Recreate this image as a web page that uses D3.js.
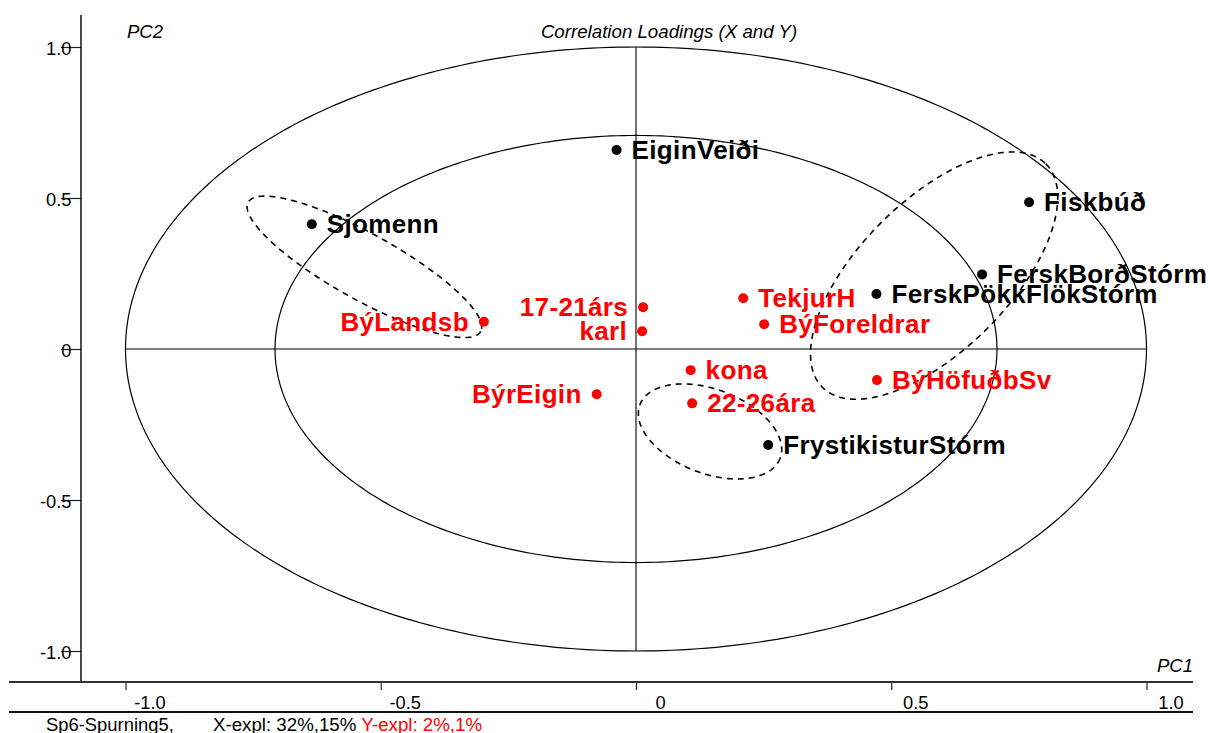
<!DOCTYPE html>
<html>
<head>
<meta charset="utf-8">
<script src="https://cdn.jsdelivr.net/npm/d3@7"></script>
<style>
body{margin:0;background:#fff;}
svg{display:block;font-family:"Liberation Sans",Arial,sans-serif;}
</style>
</head>
<body>
<div id="chart"></div>
<script>
// X loadings (black)
var xNames = ["EiginVeiði","Sjomenn","Fiskbúð","FerskBorðStórm","FerskPökkFlökStórm","FrystikisturStórm"];
var xPC1 = [-0.038,-0.635,0.770,0.678,0.471,0.259];
var xPC2 = [0.659,0.413,0.486,0.247,0.182,-0.318];

// Y loadings (red)
var yNames = ["17-21árs","karl","TekjurH","BýForeldrar","kona","22-26ára","BýrEigin","BýLandsb","BýHöfuðbSv"];
var yPC1 = [0.014,0.012,0.210,0.251,0.107,0.110,-0.077,-0.298,0.472];
var yPC2 = [0.138,0.059,0.168,0.082,-0.070,-0.180,-0.150,0.090,-0.103];
var labelLeft = ["17-21árs","karl","BýrEigin","BýLandsb"];

var tickLabels = ["-1.0","-0.5","0","0.5","1.0"];
var majorTicks = [-1,-0.5,0,0.5,1];

// hand drawn group outlines: centre + two conjugate half axes, in PC units
var groupCX = [-0.532,0.584,0.145];
var groupCY = [0.272,0.243,-0.273];
var groupA = [[0.2276,-0.2139],[0.2188,0.3699],[0.1373,-0.0887]];
var groupB = [[-0.0314,-0.0954],[0.1038,-0.1755],[-0.0294,-0.1300]];

var explX = "X-expl: 32%,15%";
var explY = "Y-expl: 2%,1%";

var W=1208, H=733;
var svg = d3.select("#chart").append("svg").attr("width",W).attr("height",H);

var x = d3.scaleLinear().domain([-1,1]).range([125.5,1146.5]);
var y = d3.scaleLinear().domain([-1,1]).range([651,47]);

var minor = d3.range(-10,11).map(i=>i/10);

// bottom axis
var gx = svg.append("g").attr("transform","translate(0,682)");
gx.call(d3.axisBottom(x).tickValues(minor).tickSize(4).tickFormat(""));
gx.call(d3.axisBottom(x).tickValues(majorTicks).tickSize(8).tickFormat((d,i)=>tickLabels[i]));
gx.selectAll(".domain").remove();
gx.selectAll("line").attr("stroke","#222").attr("stroke-width",1.2);
gx.selectAll("text").attr("x",24).attr("y",27).attr("dy",0)
  .attr("font-size",18.3).attr("fill","#000").attr("font-family","Liberation Sans, Arial");

// left axis
var gy = svg.append("g").attr("transform","translate(81,0)");
gy.call(d3.axisLeft(y).tickValues(minor).tickSize(9).tickFormat(""));
gy.call(d3.axisLeft(y).tickValues(majorTicks).tickSize(20).tickFormat((d,i)=>tickLabels[i]));
gy.selectAll(".domain").remove();
gy.selectAll("line").attr("stroke","#222").attr("stroke-width",1.2);
gy.selectAll("text").attr("x",-9.5).attr("dy","0.4em")
  .attr("font-size",18.3).attr("fill","#000").attr("font-family","Liberation Sans, Arial");

// frame lines
svg.append("line").attr("x1",81).attr("x2",81).attr("y1",15).attr("y2",682).attr("stroke","#111").attr("stroke-width",1.5);
svg.append("line").attr("x1",9).attr("x2",1193).attr("y1",682).attr("y2",682).attr("stroke","#333").attr("stroke-width",1.8);
svg.append("line").attr("x1",9).attr("x2",1193).attr("y1",712).attr("y2",712).attr("stroke","#111").attr("stroke-width",1.8);

// circles of 100% and 50% explained variance
var angles = d3.range(0,361).map(a=>a*Math.PI/180);
var line = d3.line().x(d=>x(d[0])).y(d=>y(d[1]));
[1, Math.sqrt(0.5)].forEach(function(r){
  svg.append("path")
    .attr("d", line(angles.map(t=>[r*Math.cos(t), r*Math.sin(t)])))
    .attr("fill","none").attr("stroke","#000").attr("stroke-width",1.2);
});

svg.append("line").attr("x1",x(-1)).attr("x2",x(1)).attr("y1",y(0)).attr("y2",y(0)).attr("stroke","#000").attr("stroke-width",1.1);
svg.append("line").attr("x1",x(0)).attr("x2",x(0)).attr("y1",y(1)).attr("y2",y(-1)).attr("stroke","#000").attr("stroke-width",1.1);

// dashed groups
for (var g=0; g<groupCX.length; g++){
  var pts = angles.map(t=>[
    groupCX[g] + groupA[g][0]*Math.cos(t) + groupB[g][0]*Math.sin(t),
    groupCY[g] + groupA[g][1]*Math.cos(t) + groupB[g][1]*Math.sin(t)
  ]);
  svg.append("path").attr("d",line(pts))
    .attr("fill","none").attr("stroke","#000").attr("stroke-width",1.6)
    .attr("stroke-dasharray","6,5");
}

// points + labels
function drawSet(names, pc1, pc2, colour){
  var data = names.map((n,i)=>({name:n, a:pc1[i], b:pc2[i]}));
  svg.selectAll(null).data(data).enter().append("circle")
    .attr("cx",d=>x(d.a)).attr("cy",d=>y(d.b)).attr("r",5).attr("fill",colour);
  svg.selectAll(null).data(data).enter().append("text")
    .attr("x",d=> labelLeft.indexOf(d.name)>=0 ? x(d.a)-15 : x(d.a)+15)
    .attr("y",d=>y(d.b)+9)
    .attr("text-anchor",d=> labelLeft.indexOf(d.name)>=0 ? "end" : "start")
    .attr("font-size",26).attr("font-weight","bold").attr("letter-spacing",0.35)
    .attr("fill",colour)
    .text(d=>d.name);
}
drawSet(xNames,xPC1,xPC2,"#000");
drawSet(yNames,yPC1,yPC2,"#ff0000");

// titles
svg.append("text").attr("x",669).attr("y",38).attr("text-anchor","middle")
  .attr("font-size",18.7).attr("font-style","italic").text("Correlation Loadings (X and Y)");
svg.append("text").attr("x",127).attr("y",38)
  .attr("font-size",18.5).attr("font-style","italic").text("PC2");
svg.append("text").attr("x",1193).attr("y",672).attr("text-anchor","end")
  .attr("font-size",18.5).attr("font-style","italic").text("PC1");

svg.append("text").attr("x",46).attr("y",731).attr("font-size",18.4).text("Sp6-Spurning5,");
var cap = svg.append("text").attr("x",213).attr("y",731).attr("font-size",18.7);
cap.append("tspan").attr("fill","#000").text(explX + " ");
cap.append("tspan").attr("fill","#ff0000").text(explY);
</script>
</body>
</html>
